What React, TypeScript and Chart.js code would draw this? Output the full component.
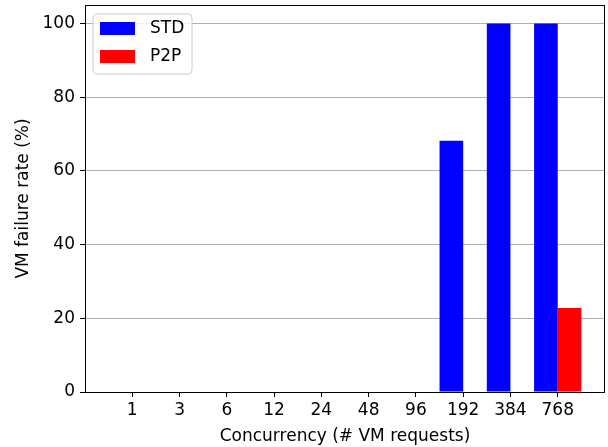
import React, { useEffect, useRef } from 'react';
import { Chart, registerables } from 'chart.js';
Chart.register(...registerables);

const categories = ['1', '3', '6', '12', '24', '48', '96', '192', '384', '768'];
const stdValues = [0, 0, 0, 0, 0, 0, 0, 68.2, 100, 100];
const p2pValues = [0, 0, 0, 0, 0, 0, 0, 0, 0, 22.8];
const yTicks = [0, 20, 40, 60, 80, 100];
const seriesNames = ['STD', 'P2P'];
const seriesColors = ['#0000ff', '#ff0000'];

const FONT = 'DejaVu Sans';

const boxPlugin = {
  id: 'boxPlugin',
  afterDatasetsDraw(chart: any) {
    const { ctx, chartArea } = chart;
    const { left, top, right, bottom } = chartArea;
    ctx.save();
    ctx.strokeStyle = '#000';
    ctx.lineWidth = 1;
    ctx.strokeRect(Math.round(left) + 0.5, Math.round(top) + 0.5, Math.round(right - left) - 1, Math.round(bottom - top));
    ctx.restore();
  },
  afterDraw(chart: any) {
    const { ctx, chartArea } = chart;
    const x0 = chartArea.left + 8;
    const y0 = chartArea.top + 9;
    const w = 99;
    const h = 60;
    ctx.save();
    ctx.beginPath();
    const r = 4;
    ctx.moveTo(x0 + r, y0);
    ctx.lineTo(x0 + w - r, y0);
    ctx.quadraticCurveTo(x0 + w, y0, x0 + w, y0 + r);
    ctx.lineTo(x0 + w, y0 + h - r);
    ctx.quadraticCurveTo(x0 + w, y0 + h, x0 + w - r, y0 + h);
    ctx.lineTo(x0 + r, y0 + h);
    ctx.quadraticCurveTo(x0, y0 + h, x0, y0 + h - r);
    ctx.lineTo(x0, y0 + r);
    ctx.quadraticCurveTo(x0, y0, x0 + r, y0);
    ctx.closePath();
    ctx.fillStyle = 'rgba(255,255,255,0.8)';
    ctx.fill();
    ctx.strokeStyle = '#cccccc';
    ctx.lineWidth = 1;
    ctx.stroke();
    ctx.font = `17px "${FONT}"`;
    ctx.textBaseline = 'middle';
    ctx.textAlign = 'left';
    seriesNames.forEach((name, i) => {
      const py = y0 + 8 + i * 28;
      ctx.fillStyle = seriesColors[i];
      ctx.fillRect(x0 + 7, py, 35, 13);
      ctx.fillStyle = '#000';
      ctx.fillText(name, x0 + 57, py + 7);
    });
    ctx.restore();
  },
};

export default function App() {
  const ref = useRef<HTMLCanvasElement>(null);
  useEffect(() => {
    if (!ref.current) return;
    Chart.defaults.font.family = FONT;
    Chart.defaults.color = '#000';
    const chart = new Chart(ref.current, {
      type: 'bar',
      data: {
        datasets: [
          {
            label: seriesNames[0],
            data: stdValues.map((v, i) => ({ x: i, y: v })),
            backgroundColor: seriesColors[0],
            categoryPercentage: 1,
            barPercentage: 1,
            inflateAmount: 0,
            borderWidth: 0,
          },
          {
            label: seriesNames[1],
            data: p2pValues.map((v, i) => ({ x: i, y: v })),
            backgroundColor: seriesColors[1],
            categoryPercentage: 1,
            barPercentage: 1,
            inflateAmount: 0,
            borderWidth: 0,
          },
        ],
      } as any,
      options: {
        animation: false,
        responsive: false,
        layout: { padding: { left: 0, top: 5, right: 3, bottom: 0 } },
        plugins: { legend: { display: false }, tooltip: { enabled: false } },
        scales: {
          x: {
            type: 'linear',
            min: -1,
            max: 10,
            offset: false,
            afterBuildTicks: (scale: any) => {
              scale.ticks = categories.map((_, i) => ({ value: i }));
            },
            afterFit: (scale: any) => {
              scale.height = 55;
              scale.paddingLeft = 0;
              scale.paddingRight = 0;
            },
            ticks: {
              autoSkip: false,
              maxRotation: 0,
              padding: 3,
              font: { size: 17 },
              color: '#000',
              callback: (v: any) => categories[v] ?? '',
            },
            grid: {
              offset: false,
              drawOnChartArea: false,
              drawTicks: true,
              tickLength: 5,
              tickColor: '#000',
              tickWidth: 1,
            },
            border: { display: false },
            title: {
              display: true,
              text: 'Concurrency (# VM requests)',
              font: { size: 17 },
              color: '#000',
              padding: { top: 0, bottom: 0 },
            },
          },
          y: {
            type: 'linear',
            min: 0,
            max: 105,
            afterBuildTicks: (scale: any) => {
              scale.ticks = yTicks.map((v) => ({ value: v }));
            },
            afterFit: (scale: any) => {
              scale.width = 85;
              scale.paddingTop = 0;
              scale.paddingBottom = 0;
            },
            ticks: {
              padding: 5,
              font: { size: 17 },
              color: '#000',
            },
            grid: {
              color: '#b0b0b0',
              lineWidth: 1,
              drawTicks: true,
              tickLength: 5,
              tickColor: '#000',
              tickWidth: 1,
            },
            border: { display: false },
            title: {
              display: true,
              text: 'VM failure rate (%)',
              font: { size: 17 },
              color: '#000',
              padding: { top: 13, bottom: 0 },
            },
          },
        },
      } as any,
      plugins: [boxPlugin],
    });
    return () => chart.destroy();
  }, []);
  return (
    <div style={{ position: 'fixed', left: 0, top: 0, width: 608, height: 447 }}>
      <canvas ref={ref} width={608} height={447} />
    </div>
  );
}
